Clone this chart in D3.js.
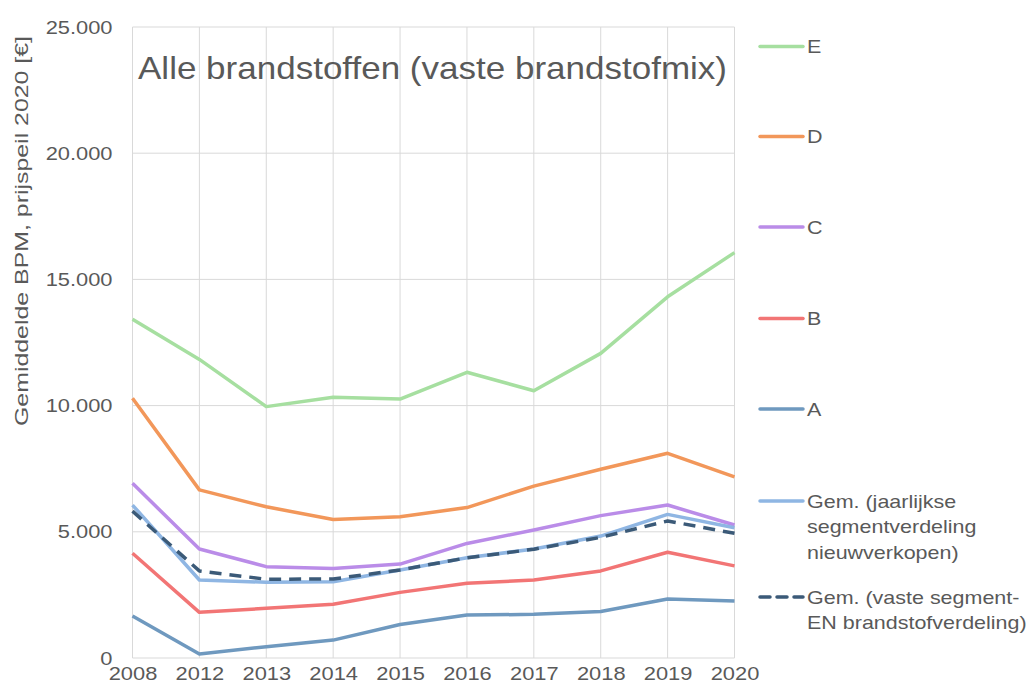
<!DOCTYPE html>
<meta charset="utf-8">
<style>
body { margin: 0; background: #fff; }
svg { font-family: "Liberation Sans", Arial, sans-serif; }
.grid line { stroke: #d9d9d9; stroke-width: 1px; }
.tick text, .lbl { fill: #595959; }
.series { fill: none; stroke-width: 3.5px; stroke-linejoin: round; }
</style>
<svg width="1035" height="693"></svg>
<script src="https://cdn.jsdelivr.net/npm/d3@7"></script>
<script>

var years = ["2008", "2012", "2013", "2014", "2015", "2016", "2017", "2018", "2019", "2020"];

var valE = [13420, 11830, 9960, 10330, 10260, 11320, 10590, 12070, 14310, 16060];
var valD = [10290, 6660, 5990, 5490, 5600, 5960, 6810, 7480, 8110, 7180];
var valC = [6920, 4320, 3620, 3550, 3720, 4540, 5070, 5640, 6060, 5270];
var valB = [4150, 1810, 1970, 2130, 2600, 2960, 3090, 3450, 4190, 3650];
var valA = [1660, 160, 450, 710, 1330, 1700, 1730, 1840, 2340, 2260];
var valGemJaar = [6060, 3090, 3000, 3020, 3490, 3970, 4320, 4830, 5690, 5160];
var valGemVast = [5820, 3450, 3120, 3130, 3490, 3970, 4310, 4780, 5430, 4940];

var yTicks = [0, 5000, 10000, 15000, 20000, 25000];

var series = [
  { name: ["E"], values: valE, color: "#a6dfa0", dash: null },
  { name: ["D"], values: valD, color: "#f2975a", dash: null },
  { name: ["C"], values: valC, color: "#ba8ce8", dash: null },
  { name: ["B"], values: valB, color: "#f27575", dash: null },
  { name: ["A"], values: valA, color: "#6f99bf", dash: null },
  { name: ["Gem. (jaarlijkse", "segmentverdeling", "nieuwverkopen)"], values: valGemJaar, color: "#8fb6e3", dash: null },
  { name: ["Gem. (vaste segment-", "EN brandstofverdeling)"], values: valGemVast, color: "#3b5a78", dash: "12,8" }
];

var svg = d3.select("svg");

var x = d3.scalePoint().domain(years).range([132.5, 734.5]);
var y = d3.scaleLinear().domain([0, 25000]).range([658, 27]);

var nl = d3.formatLocale({ decimal: ",", thousands: ".", grouping: [3], currency: ["€", ""] });
var fmt = nl.format(",.0f");

// the original text is a bit wider than Liberation Sans, stretch it
function widen(sel, k) {
  sel.each(function() {
    var w = this.getComputedTextLength();
    d3.select(this).attr("textLength", w * k).attr("lengthAdjust", "spacingAndGlyphs");
  });
}

// gridlines
var grid = svg.append("g").attr("class", "grid");
grid.selectAll(".h").data(yTicks).enter().append("line")
    .attr("x1", x.range()[0]).attr("x2", x.range()[1])
    .attr("y1", d => y(d)).attr("y2", d => y(d));
grid.selectAll(".v").data(years).enter().append("line")
    .attr("x1", d => x(d)).attr("x2", d => x(d))
    .attr("y1", y(0)).attr("y2", y(25000));

// y axis labels
svg.append("g")
    .attr("transform", "translate(" + x.range()[0] + ",0)")
    .call(d3.axisLeft(y).tickValues(yTicks).tickFormat(fmt).tickSize(0).tickPadding(20))
    .call(g => g.select(".domain").remove())
    .selectAll("text").attr("font-size", 19).attr("font-family", "Liberation Sans, Arial, sans-serif")
    .call(widen, 1.15);

// x axis labels
svg.append("g")
    .attr("transform", "translate(0," + y(0) + ")")
    .call(d3.axisBottom(x).tickSize(0).tickPadding(9))
    .call(g => g.select(".domain").remove())
    .selectAll("text").attr("font-size", 19).attr("font-family", "Liberation Sans, Arial, sans-serif")
    .call(widen, 1.15);

// y axis title
svg.append("text").attr("class", "lbl")
    .attr("transform", "translate(28,231) rotate(-90)")
    .attr("text-anchor", "middle")
    .attr("font-size", 19)
    .attr("textLength", 390)
    .attr("lengthAdjust", "spacingAndGlyphs")
    .text("Gemiddelde BPM, prijspeil 2020 [€]");

// chart title
svg.append("text").attr("class", "lbl")
    .attr("x", 138).attr("y", 79)
    .attr("font-size", 32)
    .attr("textLength", 589)
    .attr("lengthAdjust", "spacingAndGlyphs")
    .text("Alle brandstoffen (vaste brandstofmix)");

// lines
var line = d3.line().x((d, i) => x(years[i])).y(d => y(d));
svg.selectAll(".series").data(series).enter().append("path")
    .attr("class", "series")
    .attr("stroke", d => d.color)
    .attr("stroke-dasharray", d => d.dash)
    .attr("d", d => line(d.values));

// legend
var legendY = [46.5, 136.5, 227, 318.5, 409, 501, 597];
var leg = svg.selectAll(".leg").data(series).enter().append("g")
    .attr("class", "leg")
    .attr("transform", (d, i) => "translate(760," + legendY[i] + ")");
leg.append("line")
    .attr("x1", 0).attr("x2", 43)
    .attr("stroke", d => d.color)
    .attr("stroke-width", 3.5)
    .attr("stroke-linecap", "round")
    .attr("stroke-dasharray", d => d.dash ? "10,7" : null);
leg.each(function(d) {
  var g = d3.select(this);
  d.name.forEach(function(s, i) {
    g.append("text").attr("class", "lbl")
        .attr("font-size", 19)
        .attr("x", 47)
        .attr("y", 6.5 + i * 25.5)
        .text(s)
        .call(widen, 1.13);
  });
});

</script>
